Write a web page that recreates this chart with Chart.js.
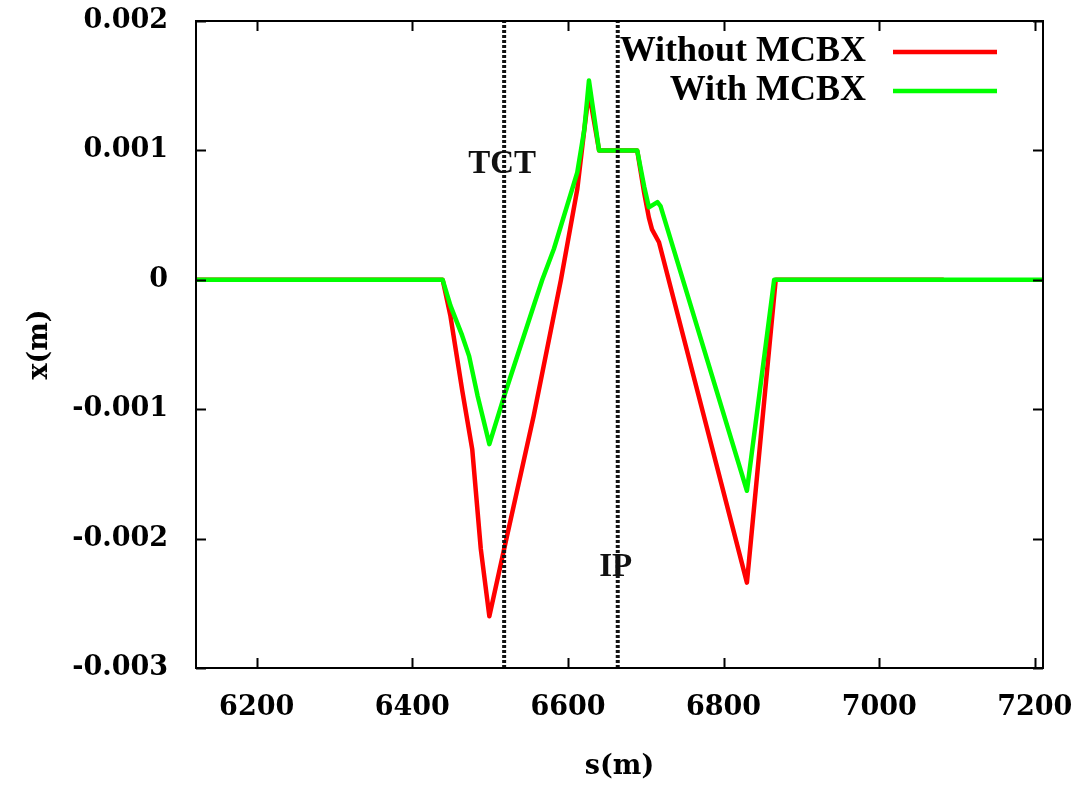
<!DOCTYPE html>
<html>
<head>
<meta charset="utf-8">
<script src="https://cdn.jsdelivr.net/npm/chart.js@4.4.0/dist/chart.umd.min.js"></script>
<style>
  html, body { margin: 0; padding: 0; background: #fff; }
  #wrap { width: 1089px; height: 785px; }
</style>
</head>
<body>
<div id="wrap"><canvas id="orbit-chart"></canvas></div>
<script>
// closed orbit x(m) along s(m)
const seriesNames = ['Without MCBX', 'With MCBX'];

const withoutS = [6122, 6439, 6449, 6464, 6477, 6488, 6499, 6518, 6556, 6591, 6612, 6621, 6627, 6640, 6689, 6698, 6704, 6708, 6717, 6830, 6867, 7083];
const withoutX = [0, 0, -0.00028, -0.00085, -0.00131, -0.00208, -0.0026, -0.00208, -0.00105, 0, 0.0007, 0.00116, 0.00145, 0.001, 0.001, 0.00067, 0.00048, 0.00039, 0.00029, -0.00234, 0, 0];

const withS = [6122, 6439, 6449, 6464, 6473, 6484, 6499, 6518, 6556, 6567, 6582, 6612, 6621, 6627, 6640, 6689, 6698, 6704, 6715, 6719, 6830, 6865, 7210];
const withX = [0, 0, -0.0002, -0.00043, -0.00059, -0.0009, -0.00127, -0.0009, -0.0002, 0, 0.00024, 0.00083, 0.00116, 0.00154, 0.001, 0.001, 0.00072, 0.00056, 0.0006, 0.00057, -0.00163, 0, 0];

const markerS = [6518, 6664];
const markerNames = ['TCT', 'IP'];
const markerLabelX = [0.00089, -0.00222];

const xTickValues = [6200, 6400, 6600, 6800, 7000, 7200];
const yTickValues = [-0.003, -0.002, -0.001, 0, 0.001, 0.002];

const X_MIN = 6122, X_MAX = 7210.5, Y_MIN = -0.003, Y_MAX = 0.002;

const tickFont = { family: 'DejaVu Serif', size: 27, weight: 'bold' };
const labelFont = 'bold 33px "Liberation Serif"';
const keyFont = 'bold 36px "Liberation Serif"';

function pts(s, x) {
    return s.map((v, i) => ({ x: v, y: x[i] }));
}

function noPad(s) {
    s.paddingTop = 0; s.paddingBottom = 0; s.paddingLeft = 0; s.paddingRight = 0;
}

const markerSets = markerS.map(s => ({
    data: [{ x: s, y: Y_MIN }, { x: s, y: Y_MAX }],
    showLine: true,
    borderColor: '#111',
    borderWidth: 4,
    borderDash: [3, 2],
    pointRadius: 0,
    order: 0
}));

// gnuplot-style box, inward ticks
const framePlugin = {
    id: 'frame',
    afterDraw(chart) {
        const { ctx, chartArea: a, scales } = chart;
        ctx.save();
        ctx.strokeStyle = '#000';
        ctx.lineWidth = 2;
        ctx.beginPath();
        xTickValues.forEach(v => {
            const px = Math.round(scales.x.getPixelForValue(v)) + 0.5;
            ctx.moveTo(px, a.bottom); ctx.lineTo(px, a.bottom - 10);
            ctx.moveTo(px, a.top); ctx.lineTo(px, a.top + 10);
        });
        yTickValues.forEach(v => {
            const py = Math.round(scales.y.getPixelForValue(v)) + 0.5;
            ctx.moveTo(a.left, py); ctx.lineTo(a.left + 10, py);
            ctx.moveTo(a.right, py); ctx.lineTo(a.right - 10, py);
        });
        ctx.stroke();
        ctx.strokeRect(a.left, a.top, a.right - a.left, a.bottom - a.top);

        // TCT / IP labels
        ctx.fillStyle = '#111';
        ctx.font = labelFont;
        ctx.textAlign = 'center';
        ctx.textBaseline = 'middle';
        markerNames.forEach((name, i) => {
            ctx.fillText(name, scales.x.getPixelForValue(markerS[i]) - 2, scales.y.getPixelForValue(markerLabelX[i]));
        });

        // key, top right
        ctx.font = keyFont;
        const sets = chart.data.datasets.filter(d => d.label);
        sets.forEach((d, i) => {
            const y = a.top + 31 + i * 39;
            ctx.fillStyle = '#000';
            ctx.textAlign = 'right';
            ctx.fillText(d.label, a.right - 177, y);
            ctx.strokeStyle = d.borderColor;
            ctx.lineWidth = 4.5;
            ctx.beginPath();
            ctx.moveTo(a.right - 150, y); ctx.lineTo(a.right - 46, y);
            ctx.stroke();
        });
        ctx.restore();
    }
};

new Chart(document.querySelector('#orbit-chart').getContext('2d'), {
    type: 'scatter',
    data: {
        datasets: [
            ...markerSets,
            {
                label: seriesNames[0],
                data: pts(withoutS, withoutX),
                showLine: true,
                borderColor: '#ff0000',
                borderWidth: 4.5,
                borderJoinStyle: 'round',
                pointRadius: 0,
                order: 2
            },
            {
                label: seriesNames[1],
                data: pts(withS, withX),
                showLine: true,
                borderColor: '#00ff00',
                borderWidth: 4.5,
                borderJoinStyle: 'round',
                pointRadius: 0,
                order: 1
            }
        ]
    },
    options: {
        responsive: true,
        maintainAspectRatio: false,
        animation: false,
        layout: { padding: { left: 0, top: 21, right: 46, bottom: 0 } },
        plugins: { legend: { display: false }, tooltip: { enabled: false } },
        scales: {
            x: {
                type: 'linear',
                min: X_MIN,
                max: X_MAX,
                grid: { display: false, drawTicks: false },
                border: { display: false },
                afterBuildTicks: s => { s.ticks = xTickValues.map(v => ({ value: v })); },
                afterFit: s => { s.height = 117; noPad(s); },
                ticks: { font: tickFont, color: '#000', padding: 24, maxRotation: 0, callback: v => String(v) },
                title: { display: true, text: 's(m)', font: tickFont, color: '#000', padding: { top: 0, bottom: 2 } }
            },
            y: {
                min: Y_MIN,
                max: Y_MAX,
                grid: { display: false, drawTicks: false },
                border: { display: false },
                afterBuildTicks: s => { s.ticks = yTickValues.map(v => ({ value: v })); },
                afterFit: s => { s.width = 196; noPad(s); },
                ticks: { font: tickFont, color: '#000', padding: 28, callback: v => v === 0 ? '0' : v.toFixed(3) },
                title: { display: true, text: 'x(m)', font: tickFont, color: '#000', padding: { top: 24, bottom: 0 } }
            }
        }
    },
    plugins: [framePlugin]
});
</script>
</body>
</html>
